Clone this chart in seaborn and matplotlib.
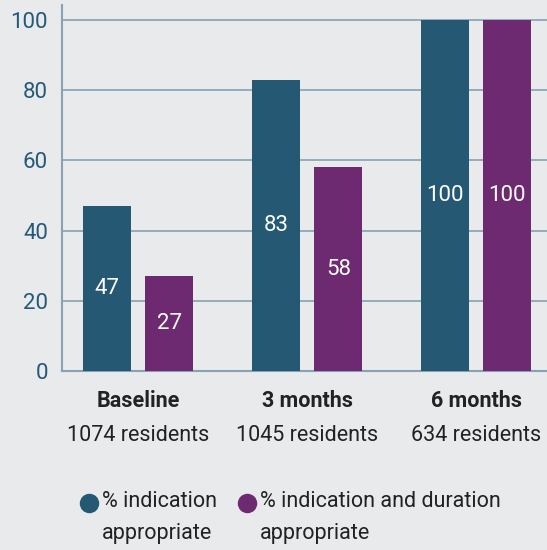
import pandas as pd
import numpy as np
import matplotlib.pyplot as plt
import seaborn as sns
from matplotlib.lines import Line2D

# chart data
periods = ['Baseline', '3 months', '6 months']
residents = ['1074 residents', '1045 residents', '634 residents']
series = ['% indication\nappropriate', '% indication and duration\nappropriate']
indication = [47, 83, 100]
indication_duration = [27, 58, 100]
colors = ['#245873', '#6d2a70']

bg = '#e9eaec'
grid_col = '#86a3b3'
tick_col = '#245a78'
text_col = '#222222'

sns.set_style('white')
plt.rcParams['font.family'] = ['Roboto', 'DejaVu Sans']

df = pd.DataFrame({
    'period': periods * 2,
    'series': [series[0]] * 3 + [series[1]] * 3,
    'value': indication + indication_duration,
})

fig = plt.figure(figsize=(5.47, 5.50), dpi=100, facecolor=bg)
ax = fig.add_axes([62 / 547, 179 / 550, 485 / 547, 366 / 550])
ax.set_facecolor(bg)

sns.barplot(data=df, x='period', y='value', hue='series', order=periods,
            hue_order=series, palette=colors, width=0.74, gap=0.23,
            saturation=1, legend=False, ax=ax, zorder=3, linewidth=0,
            edgecolor='none')

for cont in ax.containers:
    ax.bar_label(cont, label_type='center', color='white', fontsize=16)

ax.set_xlim(-0.45, 2.42)
ax.set_ylim(0, 104.3)
ax.set_yticks(range(0, 101, 20))
ax.yaxis.grid(True, color=grid_col, lw=1.2, zorder=0)
ax.set_axisbelow(True)
for s in ['top', 'right']:
    ax.spines[s].set_visible(False)
for s in ['left', 'bottom']:
    ax.spines[s].set_color(grid_col)
    ax.spines[s].set_linewidth(1.5)
ax.tick_params(axis='y', length=0, pad=10, labelsize=16, labelcolor=tick_col)
ax.tick_params(axis='x', length=0, pad=14, labelsize=15.5, labelcolor=text_col)
for lbl in ax.get_xticklabels():
    lbl.set_fontweight('semibold')
ax.set_xlabel('')
ax.set_ylabel('')

for i, r in enumerate(residents):
    ax.text(i, -0.175, r, transform=ax.get_xaxis_transform(), ha='center',
            va='center', fontsize=15.5, color=text_col)

# legend drawn by hand so the dots line up with the first text line
for x_dot, x_txt, lab, c in [(89, 102, series[0], colors[0]), (247, 260, series[1], colors[1])]:
    fig.add_artist(Line2D([x_dot / 547], [1 - 503 / 550], marker='o', markersize=13,
                          color=c, linestyle='none', transform=fig.transFigure))
    fig.text(x_txt / 547, 1 - 491 / 550, lab, ha='left', va='top', fontsize=15.5,
             color=text_col, linespacing=1.68)

fig.savefig('out.png', dpi=100, facecolor=bg)
